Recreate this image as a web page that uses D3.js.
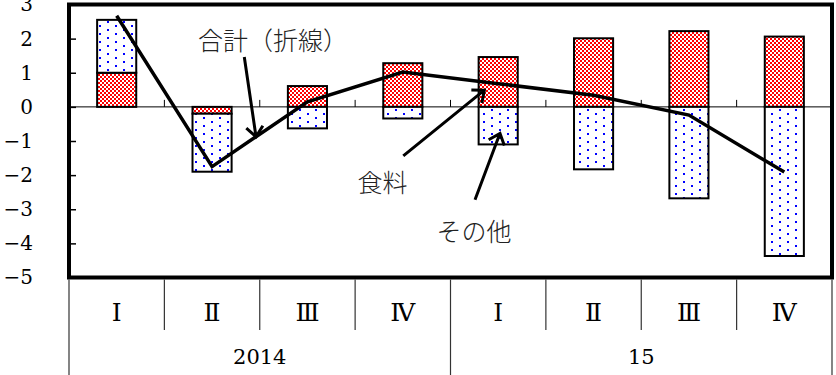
<!DOCTYPE html>
<html>
<head>
<meta charset="utf-8">
<script src="https://cdn.jsdelivr.net/npm/d3@7"></script>
<style>
  html, body { margin: 0; padding: 0; background: #fff; }
  svg { display: block; }
</style>
</head>
<body>
<svg id="chart" width="836" height="375"></svg>
<script>
// ---- data ----
const quarters = ["Ⅰ", "Ⅱ", "Ⅲ", "Ⅳ", "Ⅰ", "Ⅱ", "Ⅲ", "Ⅳ"];
const years = ["2014", "15"];
const yearSpans = [4, 4];
const food  = [1.0, -0.2, 0.61, 1.28, 1.46, 2.01, 2.22, 2.06];
const other = [1.55, -1.7, -0.63, -0.34, -1.1, -1.83, -2.68, -4.37];
const total = [2.67, -1.75, 0.15, 1.02, 0.68, 0.34, -0.24, -1.91];
const yTicks = [-5, -4, -3, -2, -1, 0, 1, 2, 3];
const labelTotal = "合計（折線）";
const labelFood = "食料";
const labelOther = "その他";

(function () {
// ---- layout ----
const W = 836, H = 375;
const pL = 69, pR = 832, pT = 4.5, pB = 277.5;
const svg = d3.select("#chart");

const idx = d3.range(quarters.length);
const x = d3.scaleBand().domain(idx).range([pL, pR]).padding(0);
const xPos = d3.scaleLinear().domain([0, quarters.length]).range([pL, pR]);
const y = d3.scaleLinear().domain([-5, 3]).range([pB, pT]);
const barW = x.bandwidth() * 0.41;

// patterns
const defs = svg.append("defs");
const pc = defs.append("pattern").attr("id", "check")
  .attr("patternUnits", "userSpaceOnUse").attr("width", 4).attr("height", 4);
pc.append("rect").attr("width", 4).attr("height", 4).attr("fill", "#fff");
pc.append("rect").attr("x", 0).attr("y", 0).attr("width", 2).attr("height", 2).attr("fill", "#ff0000");
pc.append("rect").attr("x", 2).attr("y", 2).attr("width", 2).attr("height", 2).attr("fill", "#ff0000");

const pd = defs.append("pattern").attr("id", "dots")
  .attr("patternUnits", "userSpaceOnUse").attr("width", 16).attr("height", 8);
pd.append("rect").attr("width", 16).attr("height", 8).attr("fill", "#fff");
pd.append("rect").attr("x", 3).attr("y", 1).attr("width", 2).attr("height", 2).attr("fill", "#0000ff");
pd.append("rect").attr("x", 11).attr("y", 5).attr("width", 2).attr("height", 2).attr("fill", "#0000ff");

// stacked data
const table = idx.map(i => ({ i, food: food[i], other: other[i] }));
const stack = d3.stack().keys(["food", "other"]).offset(d3.stackOffsetDiverging);
const series = stack(table);
const fills = { food: "url(#check)", other: "url(#dots)" };

// zero line
svg.append("line")
  .attr("x1", pL).attr("x2", pR)
  .attr("y1", y(0)).attr("y2", y(0))
  .attr("stroke", "#000").attr("stroke-width", 1);
svg.append("g").selectAll("line").data(d3.range(1, quarters.length)).join("line")
  .attr("x1", d => xPos(d)).attr("x2", d => xPos(d))
  .attr("y1", y(0)).attr("y2", y(0) - 7)
  .attr("stroke", "#000").attr("stroke-width", 1);

// bars
svg.append("g").selectAll("g").data(series).join("g")
  .attr("fill", d => fills[d.key])
  .selectAll("rect").data(d => d).join("rect")
  .attr("x", d => x(d.data.i) + (x.bandwidth() - barW) / 2)
  .attr("width", barW)
  .attr("y", d => y(Math.max(d[0], d[1])))
  .attr("height", d => Math.abs(y(d[0]) - y(d[1])))
  .attr("stroke", "#000").attr("stroke-width", 2);

// total line
const line = d3.line().x((d, i) => x(i) + x.bandwidth() / 2).y(d => y(d));
svg.append("path").datum(total)
  .attr("d", line).attr("fill", "none")
  .attr("stroke", "#000").attr("stroke-width", 3.5)
  .attr("stroke-linejoin", "miter");

// y axis
const yAxis = d3.axisLeft(y).tickValues(yTicks).tickSize(-7).tickPadding(36)
  .tickFormat(d3.format("d"));
const gy = svg.append("g").attr("transform", `translate(${pL},0)`).call(yAxis);
gy.select(".domain").remove();
gy.selectAll(".tick line").attr("stroke", "#000").attr("stroke-width", 1.5);
gy.selectAll(".tick text")
  .attr("font-family", "'DejaVu Serif', 'Liberation Serif', serif")
  .attr("font-size", 20).attr("fill", "#000");

// plot border
svg.append("rect")
  .attr("x", pL).attr("y", pT)
  .attr("width", pR - pL).attr("height", pB - pT)
  .attr("fill", "none").attr("stroke", "#000").attr("stroke-width", 4);

// category axis
const catG = svg.append("g");
const yearBounds = [0];
yearSpans.forEach(s => yearBounds.push(yearBounds[yearBounds.length - 1] + s));
catG.selectAll("line.q").data(d3.range(0, quarters.length + 1)).join("line")
  .attr("x1", d => xPos(d)).attr("x2", d => xPos(d))
  .attr("y1", pB + 2)
  .attr("y2", d => yearBounds.includes(d) ? H : 330)
  .attr("stroke", "#333").attr("stroke-width", 1.2);
catG.selectAll("text.q").data(quarters).join("text")
  .attr("x", (d, i) => x(i) + x.bandwidth() / 2)
  .attr("y", 312)
  .attr("text-anchor", "middle").attr("dominant-baseline", "central")
  .attr("font-family", "'DejaVu Serif', 'Liberation Serif', serif")
  .attr("font-size", 25).attr("fill", "#000")
  .text(d => d);
catG.selectAll("text.y").data(years).join("text")
  .attr("x", (d, i) => (xPos(yearBounds[i]) + xPos(yearBounds[i + 1])) / 2)
  .attr("y", 357)
  .attr("text-anchor", "middle").attr("dominant-baseline", "central")
  .attr("font-family", "'DejaVu Serif', 'Liberation Serif', serif")
  .attr("font-size", 21).attr("fill", "#000")
  .text(d => d);

// annotations (positions in data space: fractional category index, value)
const annotations = [
  { text: labelTotal, tx: 2.139, ty: 1.98, from: [1.838, 1.46], to: [1.961, -0.876] },
  { text: labelFood, tx: 3.287, ty: -2.168, from: [3.505, -1.438], to: [4.355, 0.489] },
  { text: labelOther, tx: 4.247, ty: -3.599, from: [4.257, -2.723], to: [4.519, -0.775] }
];
const annG = svg.append("g");
annotations.forEach(a => {
  annG.append("text")
    .attr("x", xPos(a.tx)).attr("y", y(a.ty))
    .attr("text-anchor", "middle").attr("dominant-baseline", "central")
    .attr("font-family", "'Noto Sans CJK JP', sans-serif")
    .attr("font-size", 25).attr("font-weight", 300).attr("fill", "#222")
    .text(a.text);
  const x1 = xPos(a.from[0]), y1 = y(a.from[1]);
  const x2 = xPos(a.to[0]), y2 = y(a.to[1]);
  const ang = Math.atan2(y1 - y2, x1 - x2);
  const hl = 13, ha = 40 * Math.PI / 180;
  const p = d3.path();
  p.moveTo(x1, y1); p.lineTo(x2, y2);
  p.moveTo(x2 + hl * Math.cos(ang + ha), y2 + hl * Math.sin(ang + ha));
  p.lineTo(x2, y2);
  p.lineTo(x2 + hl * Math.cos(ang - ha), y2 + hl * Math.sin(ang - ha));
  annG.append("path").attr("d", p.toString())
    .attr("fill", "none").attr("stroke", "#000").attr("stroke-width", 3)
    .attr("stroke-linejoin", "miter");
});
})();
</script>
</body>
</html>
